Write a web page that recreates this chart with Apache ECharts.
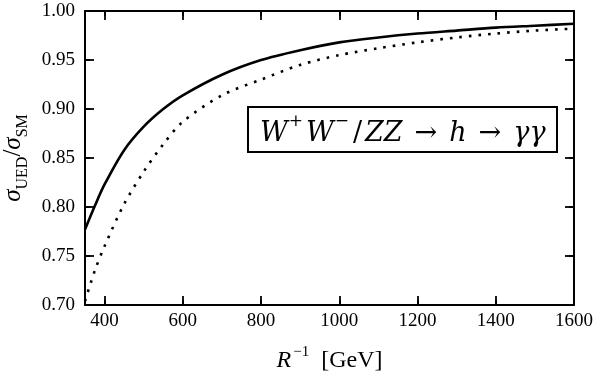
<!DOCTYPE html>
<html>
<head>
<meta charset="utf-8">
<script src="https://cdn.jsdelivr.net/npm/echarts@6/dist/echarts.min.js"></script>
<style>
  html, body { margin: 0; padding: 0; background: #fff; }
  #chart { width: 604px; height: 373px; }
</style>
</head>
<body>
<div id="chart"></div>
<script>
// R^-1 [GeV]
var xVals = [350, 375, 400, 450, 500, 550, 600, 700, 800, 900, 1000, 1100, 1200, 1300, 1400, 1500, 1600]
// WW/ZZ fusion, solid curve
var solidVals = [0.777, 0.801, 0.823, 0.858, 0.882, 0.900, 0.914, 0.935, 0.950, 0.960, 0.968, 0.973, 0.977, 0.980, 0.983, 0.985, 0.987]
// dotted curve
var dottedVals = [0.704, 0.735, 0.760, 0.803, 0.836, 0.864, 0.887, 0.914, 0.930, 0.945, 0.955, 0.962, 0.968, 0.973, 0.977, 0.980, 0.982]
var xTicks = [400, 600, 800, 1000, 1200, 1400, 1600]
var yTicks = [0.75, 0.80, 0.85, 0.90, 0.95]

var serif = 'Liberation Serif'
var wide = 'DejaVu Serif'
var xMin = 350
var xMax = 1600
var yMin = 0.70
var yMax = 1.00

function pairs (ys) {
  return xVals.map(function (x, i) { return [x, ys[i]] })
}

var tick = { show: true, inside: true, lineStyle: { color: '#000', width: 1.8 } }

function xAxisOpt (pos, showLabels) {
  return {
    type: 'value',
    position: pos,
    min: xMin,
    max: xMax,
    axisLine: { show: true, onZero: false, lineStyle: { color: '#000', width: 2 } },
    axisTick: Object.assign({ customValues: xTicks }, tick),
    axisLabel: {
      show: showLabels,
      customValues: xTicks,
      margin: 7,
      color: '#000',
      fontFamily: serif,
      fontSize: 19,
      formatter: function (v) { return String(v) }
    },
    splitLine: { show: false }
  }
}

function yAxisOpt (pos, showLabels) {
  return {
    type: 'value',
    position: pos,
    min: yMin,
    max: yMax,
    interval: 0.05,
    axisLine: { show: true, onZero: false, lineStyle: { color: '#000', width: 2 } },
    axisTick: Object.assign({}, tick),
    axisLabel: {
      show: showLabels,
      margin: 10,
      color: '#000',
      fontFamily: serif,
      fontSize: 19,
      formatter: function (v) { return v.toFixed(2) }
    },
    splitLine: { show: false }
  }
}

var chart = echarts.init(document.getElementById('chart'), null, { renderer: 'canvas' })

var xName = xAxisOpt('bottom', true)
xName.name = '{it|R}{sup|−1}{rm|\u00a0\u00a0[GeV]}'
xName.nameLocation = 'middle'
xName.nameGap = 40
xName.nameTextStyle = {
  color: '#000',
  rich: {
    it: { fontFamily: serif, fontStyle: 'italic', fontWeight: 'normal', fontSize: 24, color: '#000', verticalAlign: 'bottom', lineHeight: 28 },
    sup: { fontFamily: serif, fontWeight: 'normal', fontSize: 15, color: '#000', verticalAlign: 'top', lineHeight: 28, padding: [0, 0, 0, 2] },
    rm: { fontFamily: serif, fontWeight: 'normal', fontSize: 24, color: '#000', verticalAlign: 'bottom', lineHeight: 28 }
  }
}

var yName = yAxisOpt('left', true)
yName.name = '{it|σ}{sub|UED}{rm|/}{it|σ}{sub|SM}'
yName.nameLocation = 'middle'
yName.nameGap = 54
yName.nameTextStyle = {
  color: '#000',
  rich: {
    it: { fontFamily: serif, fontStyle: 'italic', fontWeight: 'normal', fontSize: 25, color: '#000', verticalAlign: 'top', lineHeight: 30 },
    sub: { fontFamily: serif, fontWeight: 'normal', fontSize: 16, color: '#000', verticalAlign: 'bottom', lineHeight: 30 },
    rm: { fontFamily: serif, fontWeight: 'normal', fontSize: 25, color: '#000', verticalAlign: 'top', lineHeight: 30 }
  }
}

var tickLineStyle = { color: '#000', width: 1.8, type: 'solid' }

chart.setOption({
  backgroundColor: '#fff',
  animation: false,
  title: {
    left: 248,
    top: 107,
    text: '{it|W}{sup|+}{it|W}{sup|−}{rm|/}{it|ZZ}{ar|→}{it|h}{ar|→}{it|γγ}',
    borderColor: '#000',
    borderWidth: 2,
    padding: [6, 12, 5, 12],
    textStyle: {
      fontWeight: 'normal',
      rich: {
        it: { fontFamily: wide, fontStyle: 'italic', fontWeight: 'normal', fontSize: 27, color: '#000', verticalAlign: 'bottom', lineHeight: 34 },
        sup: { fontFamily: wide, fontWeight: 'normal', fontSize: 17, color: '#000', verticalAlign: 'top', lineHeight: 34, padding: [0, 3, 0, 1] },
        rm: { fontFamily: wide, fontWeight: 'normal', fontSize: 27, color: '#000', verticalAlign: 'bottom', lineHeight: 34, padding: [0, 3, 0, 1] },
        ar: { fontFamily: wide, fontWeight: 'normal', fontSize: 27, color: '#000', verticalAlign: 'bottom', lineHeight: 34, padding: [0, 12, 0, 12] }
      }
    }
  },
  grid: { left: 85, right: 30, top: 11, bottom: 68, outerBoundsMode: 'none' },
  xAxis: [xName, xAxisOpt('top', false)],
  yAxis: [yName, yAxisOpt('right', false)],
  series: [
    {
      type: 'line',
      data: pairs(solidVals),
      smooth: 0.3,
      showSymbol: false,
      clip: false,
      lineStyle: { color: '#000', width: 2.6 }
    },
    {
      type: 'line',
      data: pairs(dottedVals),
      smooth: 0.3,
      showSymbol: false,
      clip: true,
      lineStyle: { color: '#000', width: 2.6, type: [2.6, 7] }
    }
  ]
})

// inward ticks on all four sides, 9px long, placed through the axis scales
var tickLen = 9
function toData (px) { return chart.convertFromPixel({ gridIndex: 0 }, px) }
function toPx (pt) { return chart.convertToPixel({ gridIndex: 0 }, pt) }
var segs = []
xTicks.forEach(function (v) {
  if (v >= xMax) return
  var b = toPx([v, yMin])
  var t = toPx([v, yMax])
  segs.push([{ coord: [v, yMin] }, { coord: [v, toData([b[0], b[1] - tickLen])[1]] }])
  segs.push([{ coord: [v, yMax] }, { coord: [v, toData([t[0], t[1] + tickLen])[1]] }])
})
yTicks.forEach(function (v) {
  var l = toPx([xMin, v])
  var r = toPx([xMax, v])
  segs.push([{ coord: [xMin, v] }, { coord: [toData([l[0] + tickLen, l[1]])[0], v] }])
  segs.push([{ coord: [xMax, v] }, { coord: [toData([r[0] - tickLen, r[1]])[0], v] }])
})

chart.setOption({
  series: [{
    markLine: {
      silent: true,
      symbol: ['none', 'none'],
      label: { show: false },
      lineStyle: tickLineStyle,
      emphasis: { disabled: true },
      animation: false,
      data: segs
    }
  }]
})
</script>
</body>
</html>
